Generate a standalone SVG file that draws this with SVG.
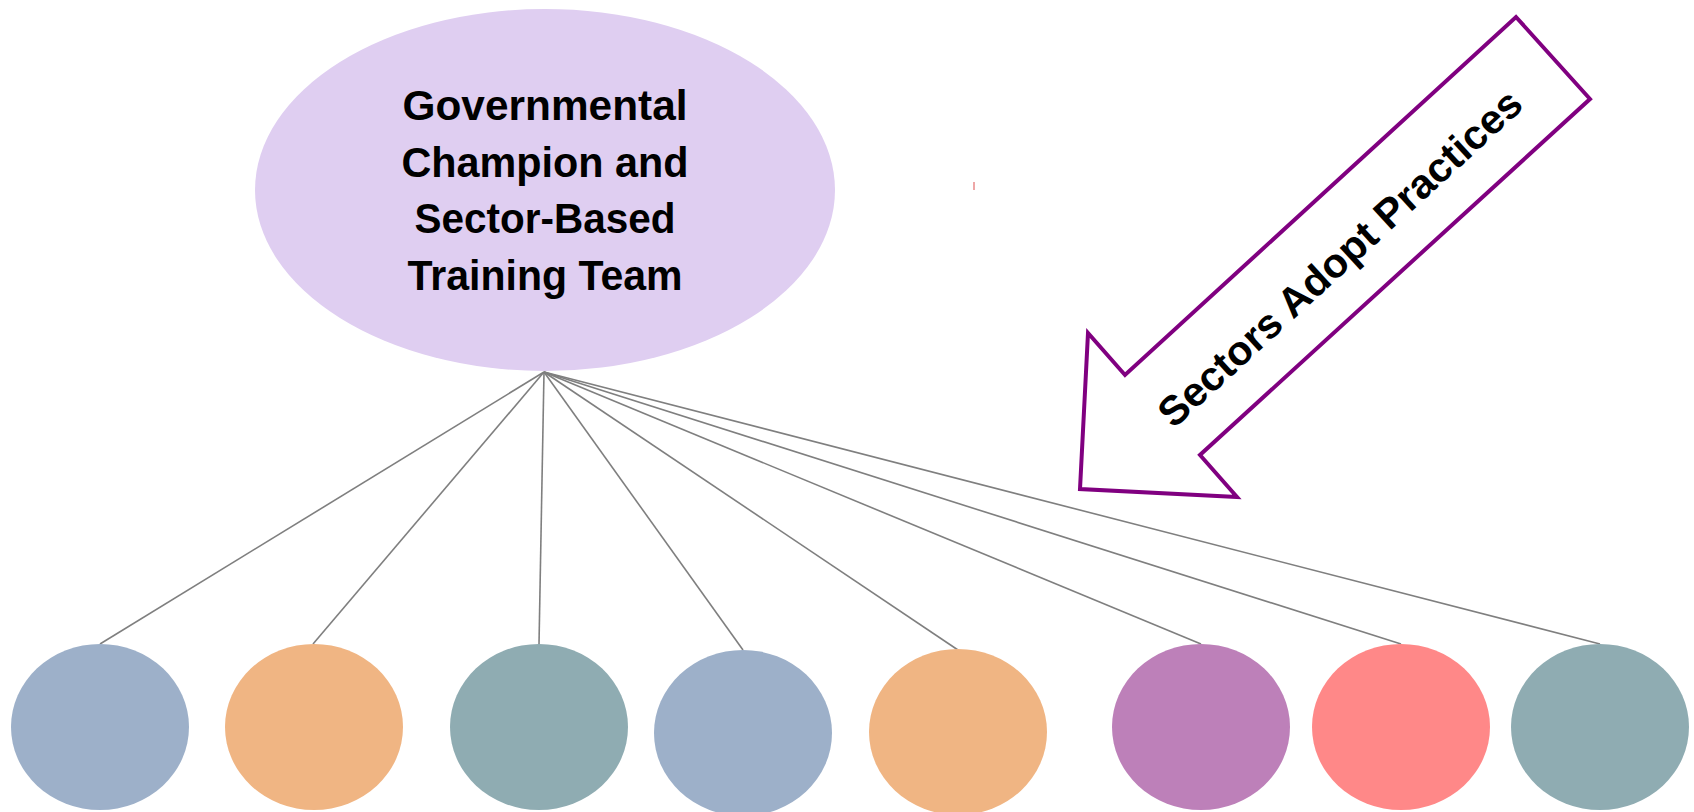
<svg xmlns="http://www.w3.org/2000/svg" width="1694" height="812" viewBox="0 0 1694 812">
  <style>
    .conn { stroke: #7f7f7f; stroke-width: 1.6; fill: none; }
    .title { font-family: "Liberation Sans", Arial, sans-serif; font-weight: bold; font-size: 42px; fill: #000; text-anchor: middle; }
    .arrowtxt { font-family: "Liberation Sans", Arial, sans-serif; font-weight: bold; font-size: 41px; fill: #000; text-anchor: middle; }
    .blue { fill: #9DB0C9; }
    .orange { fill: #F0B583; }
    .teal { fill: #8FACB2; }
    .purple { fill: #BD80B9; }
    .red { fill: #FF8888; }
  </style>
  <rect width="1694" height="812" fill="#ffffff"/>

  <!-- connectors from the hub to each sector circle -->
  <g id="connectors">
    <line class="conn" x1="544" y1="372" x2="100" y2="644"/>
    <line class="conn" x1="544" y1="372" x2="313" y2="644"/>
    <line class="conn" x1="544" y1="372" x2="539" y2="644"/>
    <line class="conn" x1="544" y1="372" x2="743" y2="650"/>
    <line class="conn" x1="544" y1="372" x2="958" y2="650"/>
    <line class="conn" x1="544" y1="372" x2="1201" y2="644"/>
    <line class="conn" x1="544" y1="372" x2="1401" y2="644"/>
    <line class="conn" x1="544" y1="372" x2="1600" y2="644"/>
  </g>

  <!-- central node -->
  <g id="hub">
    <ellipse cx="545" cy="190" rx="290" ry="181" fill="#DFCEF1"/>
    <text class="title" x="545" y="120" textLength="285" lengthAdjust="spacingAndGlyphs">Governmental</text>
    <text class="title" x="545" y="177" textLength="287" lengthAdjust="spacingAndGlyphs">Champion and</text>
    <text class="title" x="545" y="233" textLength="261" lengthAdjust="spacingAndGlyphs">Sector-Based</text>
    <text class="title" x="545" y="290" textLength="275" lengthAdjust="spacingAndGlyphs">Training Team</text>
  </g>

  <!-- sector circles -->
  <g id="sector-1"><ellipse class="blue" cx="100" cy="727" rx="89" ry="83"/></g>
  <g id="sector-2"><ellipse class="orange" cx="314" cy="727" rx="89" ry="83"/></g>
  <g id="sector-3"><ellipse class="teal" cx="539" cy="727" rx="89" ry="83"/></g>
  <g id="sector-4"><ellipse class="blue" cx="743" cy="733" rx="89" ry="83"/></g>
  <g id="sector-5"><ellipse class="orange" cx="958" cy="732" rx="89" ry="83"/></g>
  <g id="sector-6"><ellipse class="purple" cx="1201" cy="727" rx="89" ry="83"/></g>
  <g id="sector-7"><ellipse class="red" cx="1401" cy="727" rx="89" ry="83"/></g>
  <g id="sector-8"><ellipse class="teal" cx="1600" cy="727" rx="89" ry="83"/></g>

  <!-- small stray mark -->
  <line x1="974" y1="182" x2="974" y2="190" stroke="#E88A8A" stroke-width="1.5"/>

  <!-- block arrow -->
  <g id="adopt-arrow">
    <polygon points="1516,17 1590,99 1200,455 1237,497 1080,489 1088,333 1125,375" fill="#ffffff" stroke="#800080" stroke-width="4" stroke-linejoin="miter"/>
    <text class="arrowtxt" transform="translate(1340,258) rotate(-42.5)" x="0" y="14" textLength="477" lengthAdjust="spacingAndGlyphs">Sectors Adopt Practices</text>
  </g>
</svg>
